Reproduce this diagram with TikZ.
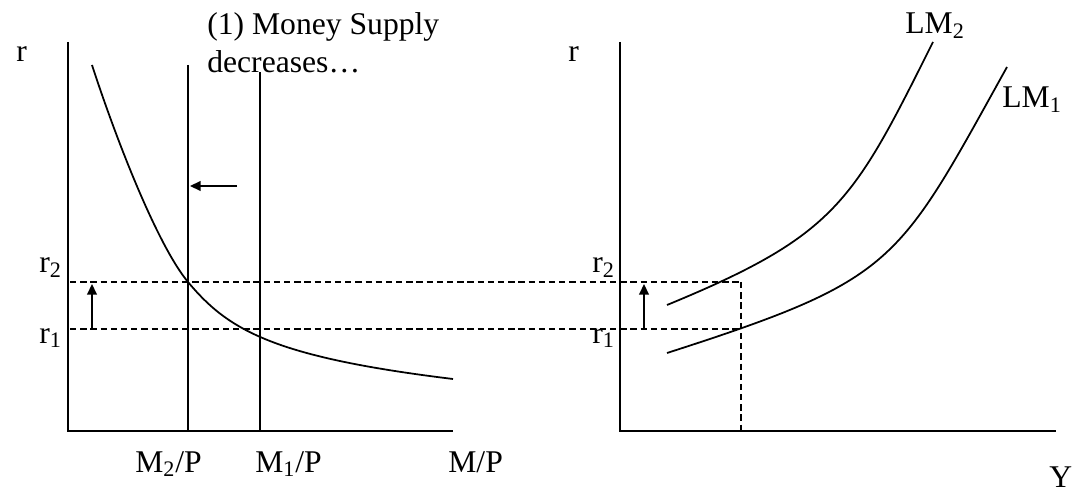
\documentclass[tikz,border=0pt]{standalone}
\usepackage{fontspec}
\setmainfont{Liberation Serif}
\usetikzlibrary{arrows.meta}

\newcommand*{\rlow}{329}
\newcommand*{\rhigh}{282}
\newcommand*{\ybase}{431}
\newcommand*{\ytop}{42}

\begin{document}
\begin{tikzpicture}
[
	x=0.02cm, y=-0.02cm,
	axis/.style={line width=1.3pt},
	thinaxis/.style={line width=0.6pt},
	curve/.style={line width=1pt},
	guide/.style={line width=0.8pt,dash pattern=on 3.6pt off 2.2pt},
	shiftarr/.style={line width=0.9pt,-{Triangle[length=6pt,width=5.5pt]}},
	lbl/.style={inner sep=0pt,anchor=base west,font=\fontsize{18}{21.5}\selectfont}
]
	\useasboundingbox (0,0) rectangle (1078,496);

	% origins and corners
	\coordinate (O1) at (68,\ybase);
	\coordinate (O2) at (620,\ybase);
	\coordinate (ms2) at (188,65);
	\coordinate (ms1) at (260,72);
	\coordinate (ycorner) at (741,\rhigh);

	% axes (money market)
	\draw[thinaxis] (68,\ytop) -- (68,115);
	\draw[axis] (68,115) -- (O1) -- (429,\ybase);
	\draw[thinaxis] (429,\ybase) -- (453,\ybase);

	% axes (LM)
	\draw[thinaxis] (620,\ytop) -- (620,118);
	\draw[axis] (620,118) -- (O2) -- (1056,\ybase);

	% money supply
	\draw[axis] (ms2) -- (ms2 |- O1);
	\draw[axis] (ms1) -- (ms1 |- O1);

	% money demand
	\draw[curve]
	  (92,65)
	  .. controls (117,142) and (158,246) .. (188,282)
	  .. controls (228,330) and (273,357) .. (453,379)
	;

	% LM curves
	\draw[curve] (667,305) .. controls (837,235) and (853,202) .. (933,42);
	\draw[curve] (667,353) .. controls (897,279) and (897,265) .. (1007,67);

	% interest rates
	\foreach \r in {\rlow,\rhigh} {
		\draw[guide] (70,\r) -- (741,\r);
	}
	\draw[guide] (ycorner) -- (ycorner |- O2);

	% shifts
	\coordinate (shfrom) at (237,186);
	\coordinate (shto) at (190,186);
	\draw[shiftarr] (shfrom) -- (shto);
	\foreach \x in {92,644} {
		\draw[shiftarr] (\x,\rlow) -- (\x,284);
	}

	% labels
	\node[lbl] (rL) at (16,62) {r};
	\node[lbl] (rR) at (568,62) {r};
	\node[lbl] (r2L) at (39,273) {r\textsubscript{2}};
	\node[lbl] (r1L) at (39,343) {r\textsubscript{1}};
	\node[lbl] (r2R) at (592,273) {r\textsubscript{2}};
	\node[lbl] (r1R) at (592,343) {r\textsubscript{1}};
	\node[lbl] (m2) at (135,472) {M\textsubscript{2}/P};
	\node[lbl] (m1) at (255,472) {M\textsubscript{1}/P};
	\node[lbl] (mp) at (448,472) {M/P};
	\node[lbl] (y) at (1049,487) {Y};
	\node[lbl] (lm2) at (905,34) {LM\textsubscript{2}};
	\node[lbl] (lm1) at (1002,108) {LM\textsubscript{1}};
	\node[lbl,anchor=north west,align=left] (note) at (207,12)
	  {(1) Money Supply\\decreases…};

\end{tikzpicture}
\end{document}
